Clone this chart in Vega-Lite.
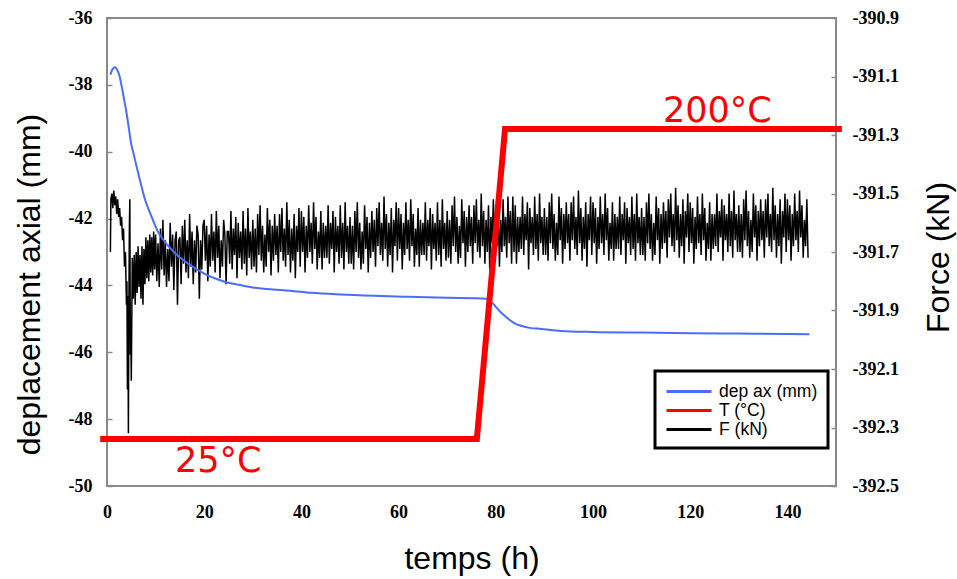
{
  "$schema": "https://vega.github.io/schema/vega-lite/v6.json",
  "autosize": "none",
  "width": 729,
  "height": 468,
  "padding": {"left": 107, "top": 18, "right": 121, "bottom": 93},
  "background": "white",
  "config": {
    "view": {"stroke": "#8a8a8a", "strokeWidth": 2},
    "axis": {
      "grid": false, "domain": false,
      "tickColor": "#8a8a8a", "tickWidth": 1.5,
      "labelExpr": "replace(datum.label, '\u2212', '-')",
      "labelFont": "Liberation Serif", "labelFontWeight": "bold", "labelFontSize": 18, "labelColor": "black",
      "titleFont": "Liberation Sans", "titleFontSize": 32, "titleFontWeight": "normal", "titleColor": "black"
    }
  },
  "datasets": {
    "force": [
      {"t":0.7,"F":-391.70},{"t":0.8,"F":-391.52},{"t":1.0,"F":-391.50},{"t":1.2,"F":-391.55},{"t":1.4,"F":-391.49},{"t":1.6,"F":-391.54},{"t":1.8,"F":-391.51},{"t":2.0,"F":-391.57},{"t":2.2,"F":-391.52},{"t":2.4,"F":-391.58},
      {"t":2.6,"F":-391.55},{"t":2.8,"F":-391.61},{"t":3.0,"F":-391.58},{"t":3.2,"F":-391.66},{"t":3.4,"F":-391.62},{"t":3.6,"F":-391.75},{"t":3.8,"F":-391.70},{"t":4.0,"F":-391.88},{"t":4.1,"F":-391.80},{"t":4.2,"F":-392.17},
      {"t":4.3,"F":-391.85},{"t":4.4,"F":-392.32},{"t":4.5,"F":-391.90},{"t":4.6,"F":-391.62},{"t":4.7,"F":-391.52},{"t":4.8,"F":-392.05},{"t":4.9,"F":-391.95},{"t":5.0,"F":-392.14},
      {"t":5.2,"F":-391.72},{"t":5.4,"F":-391.86},{"t":5.6,"F":-391.71},{"t":5.8,"F":-391.88},{"t":6.0,"F":-391.70},{"t":6.2,"F":-391.84},{"t":6.4,"F":-391.68},{"t":6.6,"F":-391.82},{"t":6.8,"F":-391.71},{"t":7.0,"F":-391.86},
      {"t":7.2,"F":-391.68},{"t":7.4,"F":-391.88},{"t":7.6,"F":-391.69},{"t":7.8,"F":-391.81},{"t":8.0,"F":-391.65},{"t":8.2,"F":-391.79},{"t":8.4,"F":-391.66},{"t":8.6,"F":-391.80},{"t":8.8,"F":-391.64},{"t":9.0,"F":-391.77},
      {"t":9.2,"F":-391.65},{"t":9.4,"F":-391.78},{"t":9.6,"F":-391.63},{"t":9.8,"F":-391.76},
      {"t":10.0,"F":-391.64},{"t":10.25,"F":-391.80},{"t":10.5,"F":-391.67},{"t":10.75,"F":-391.82},{"t":11.0,"F":-391.62},{"t":11.25,"F":-391.76},{"t":11.5,"F":-391.59},{"t":11.75,"F":-391.78},{"t":12.0,"F":-391.66},{"t":12.25,"F":-391.82},
      {"t":12.5,"F":-391.69},{"t":12.75,"F":-391.80},{"t":13.0,"F":-391.60},{"t":13.25,"F":-391.75},{"t":13.5,"F":-391.64},{"t":13.75,"F":-391.83},{"t":14.0,"F":-391.66},{"t":14.25,"F":-391.63},{"t":14.5,"F":-391.88},{"t":14.75,"F":-391.66},
      {"t":15.0,"F":-391.65},{"t":15.25,"F":-391.81},{"t":15.5,"F":-391.61},{"t":15.75,"F":-391.74},{"t":16.0,"F":-391.59},{"t":16.25,"F":-391.77},{"t":16.5,"F":-391.66},{"t":16.75,"F":-391.79},{"t":17.0,"F":-391.57},{"t":17.25,"F":-391.75},
      {"t":17.5,"F":-391.63},{"t":17.75,"F":-391.81},{"t":18.0,"F":-391.66},{"t":18.25,"F":-391.77},{"t":18.5,"F":-391.61},{"t":18.75,"F":-391.64},{"t":19.0,"F":-391.86},{"t":19.25,"F":-391.66},{"t":19.5,"F":-391.76},{"t":19.75,"F":-391.61},
      {"t":20.0,"F":-391.59},{"t":20.25,"F":-391.73},{"t":20.5,"F":-391.61},{"t":20.75,"F":-391.80},{"t":21.0,"F":-391.64},{"t":21.25,"F":-391.75},{"t":21.5,"F":-391.57},{"t":21.75,"F":-391.73},{"t":22.0,"F":-391.63},{"t":22.25,"F":-391.77},
      {"t":22.5,"F":-391.56},{"t":22.75,"F":-391.72},{"t":23.0,"F":-391.61},{"t":23.25,"F":-391.79},{"t":23.5,"F":-391.66},{"t":23.75,"F":-391.75},{"t":24.0,"F":-391.59},{"t":24.25,"F":-391.64},{"t":24.5,"F":-391.81},{"t":24.75,"F":-391.63},
      {"t":25.0,"F":-391.63},{"t":25.25,"F":-391.74},{"t":25.5,"F":-391.56},{"t":25.75,"F":-391.76},{"t":26.0,"F":-391.62},{"t":26.25,"F":-391.71},{"t":26.5,"F":-391.58},{"t":26.75,"F":-391.79},{"t":27.0,"F":-391.60},{"t":27.25,"F":-391.72},
      {"t":27.5,"F":-391.63},{"t":27.75,"F":-391.76},{"t":28.0,"F":-391.56},{"t":28.25,"F":-391.74},{"t":28.5,"F":-391.62},{"t":28.75,"F":-391.78},{"t":29.0,"F":-391.55},{"t":29.25,"F":-391.72},{"t":29.5,"F":-391.63},{"t":29.75,"F":-391.76},
      {"t":30.0,"F":-391.59},{"t":30.25,"F":-391.75},{"t":30.5,"F":-391.62},{"t":30.75,"F":-391.77},{"t":31.0,"F":-391.57},{"t":31.25,"F":-391.71},{"t":31.5,"F":-391.54},{"t":31.75,"F":-391.73},{"t":32.0,"F":-391.61},{"t":32.25,"F":-391.77},
      {"t":32.5,"F":-391.64},{"t":32.75,"F":-391.75},{"t":33.0,"F":-391.55},{"t":33.25,"F":-391.70},{"t":33.5,"F":-391.59},{"t":33.75,"F":-391.78},{"t":34.0,"F":-391.61},{"t":34.25,"F":-391.73},{"t":34.5,"F":-391.57},{"t":34.75,"F":-391.71},
      {"t":35.0,"F":-391.61},{"t":35.25,"F":-391.77},{"t":35.5,"F":-391.57},{"t":35.75,"F":-391.70},{"t":36.0,"F":-391.55},{"t":36.25,"F":-391.73},{"t":36.5,"F":-391.62},{"t":36.75,"F":-391.75},{"t":37.0,"F":-391.53},{"t":37.25,"F":-391.71},
      {"t":37.5,"F":-391.59},{"t":37.75,"F":-391.77},{"t":38.0,"F":-391.62},{"t":38.25,"F":-391.73},{"t":38.5,"F":-391.57},{"t":38.75,"F":-391.79},{"t":39.0,"F":-391.61},{"t":39.25,"F":-391.70},{"t":39.5,"F":-391.55},{"t":39.75,"F":-391.75},
      {"t":40.0,"F":-391.56},{"t":40.25,"F":-391.70},{"t":40.5,"F":-391.58},{"t":40.75,"F":-391.77},{"t":41.0,"F":-391.61},{"t":41.25,"F":-391.72},{"t":41.5,"F":-391.54},{"t":41.75,"F":-391.70},{"t":42.0,"F":-391.60},{"t":42.25,"F":-391.74},
      {"t":42.5,"F":-391.53},{"t":42.75,"F":-391.69},{"t":43.0,"F":-391.58},{"t":43.25,"F":-391.76},{"t":43.5,"F":-391.63},{"t":43.75,"F":-391.72},{"t":44.0,"F":-391.56},{"t":44.25,"F":-391.76},{"t":44.5,"F":-391.60},{"t":44.75,"F":-391.72},
      {"t":45.0,"F":-391.61},{"t":45.25,"F":-391.72},{"t":45.5,"F":-391.54},{"t":45.75,"F":-391.74},{"t":46.0,"F":-391.60},{"t":46.25,"F":-391.69},{"t":46.5,"F":-391.56},{"t":46.75,"F":-391.77},{"t":47.0,"F":-391.58},{"t":47.25,"F":-391.70},
      {"t":47.5,"F":-391.61},{"t":47.75,"F":-391.74},{"t":48.0,"F":-391.54},{"t":48.25,"F":-391.72},{"t":48.5,"F":-391.60},{"t":48.75,"F":-391.76},{"t":49.0,"F":-391.53},{"t":49.25,"F":-391.70},{"t":49.5,"F":-391.61},{"t":49.75,"F":-391.74},
      {"t":50.0,"F":-391.58},{"t":50.25,"F":-391.74},{"t":50.5,"F":-391.61},{"t":50.75,"F":-391.76},{"t":51.0,"F":-391.56},{"t":51.25,"F":-391.70},{"t":51.5,"F":-391.53},{"t":51.75,"F":-391.72},{"t":52.0,"F":-391.60},{"t":52.25,"F":-391.76},
      {"t":52.5,"F":-391.63},{"t":52.75,"F":-391.74},{"t":53.0,"F":-391.54},{"t":53.25,"F":-391.69},{"t":53.5,"F":-391.58},{"t":53.75,"F":-391.77},{"t":54.0,"F":-391.60},{"t":54.25,"F":-391.72},{"t":54.5,"F":-391.56},{"t":54.75,"F":-391.70},
      {"t":55.0,"F":-391.59},{"t":55.25,"F":-391.75},{"t":55.5,"F":-391.55},{"t":55.75,"F":-391.68},{"t":56.0,"F":-391.53},{"t":56.25,"F":-391.71},{"t":56.5,"F":-391.60},{"t":56.75,"F":-391.73},{"t":57.0,"F":-391.51},{"t":57.25,"F":-391.69},
      {"t":57.5,"F":-391.57},{"t":57.75,"F":-391.75},{"t":58.0,"F":-391.60},{"t":58.25,"F":-391.71},{"t":58.5,"F":-391.55},{"t":58.75,"F":-391.77},{"t":59.0,"F":-391.59},{"t":59.25,"F":-391.68},{"t":59.5,"F":-391.53},{"t":59.75,"F":-391.73},
      {"t":60.0,"F":-391.55},{"t":60.25,"F":-391.69},{"t":60.5,"F":-391.57},{"t":60.75,"F":-391.76},{"t":61.0,"F":-391.60},{"t":61.25,"F":-391.71},{"t":61.5,"F":-391.53},{"t":61.75,"F":-391.69},{"t":62.0,"F":-391.59},{"t":62.25,"F":-391.73},
      {"t":62.5,"F":-391.52},{"t":62.75,"F":-391.68},{"t":63.0,"F":-391.57},{"t":63.25,"F":-391.75},{"t":63.5,"F":-391.62},{"t":63.75,"F":-391.71},{"t":64.0,"F":-391.55},{"t":64.25,"F":-391.75},{"t":64.5,"F":-391.59},{"t":64.75,"F":-391.71},
      {"t":65.0,"F":-391.60},{"t":65.25,"F":-391.71},{"t":65.5,"F":-391.53},{"t":65.75,"F":-391.73},{"t":66.0,"F":-391.59},{"t":66.25,"F":-391.68},{"t":66.5,"F":-391.55},{"t":66.75,"F":-391.76},{"t":67.0,"F":-391.57},{"t":67.25,"F":-391.69},
      {"t":67.5,"F":-391.60},{"t":67.75,"F":-391.73},{"t":68.0,"F":-391.53},{"t":68.25,"F":-391.71},{"t":68.5,"F":-391.59},{"t":68.75,"F":-391.75},{"t":69.0,"F":-391.52},{"t":69.25,"F":-391.69},{"t":69.5,"F":-391.60},{"t":69.75,"F":-391.73},
      {"t":70.0,"F":-391.56},{"t":70.25,"F":-391.72},{"t":70.5,"F":-391.59},{"t":70.75,"F":-391.74},{"t":71.0,"F":-391.54},{"t":71.25,"F":-391.68},{"t":71.5,"F":-391.51},{"t":71.75,"F":-391.70},{"t":72.0,"F":-391.58},{"t":72.25,"F":-391.74},
      {"t":72.5,"F":-391.61},{"t":72.75,"F":-391.72},{"t":73.0,"F":-391.52},{"t":73.25,"F":-391.67},{"t":73.5,"F":-391.56},{"t":73.75,"F":-391.75},{"t":74.0,"F":-391.58},{"t":74.25,"F":-391.70},{"t":74.5,"F":-391.54},{"t":74.75,"F":-391.68},
      {"t":75.0,"F":-391.58},{"t":75.25,"F":-391.74},{"t":75.5,"F":-391.54},{"t":75.75,"F":-391.67},{"t":76.0,"F":-391.52},{"t":76.25,"F":-391.70},{"t":76.5,"F":-391.59},{"t":76.75,"F":-391.72},{"t":77.0,"F":-391.50},{"t":77.25,"F":-391.68},
      {"t":77.5,"F":-391.56},{"t":77.75,"F":-391.74},{"t":78.0,"F":-391.59},{"t":78.25,"F":-391.70},{"t":78.5,"F":-391.54},{"t":78.75,"F":-391.76},{"t":79.0,"F":-391.58},{"t":79.25,"F":-391.67},{"t":79.5,"F":-391.52},{"t":79.75,"F":-391.72},
      {"t":80.0,"F":-391.54},{"t":80.25,"F":-391.68},{"t":80.5,"F":-391.56},{"t":80.75,"F":-391.75},{"t":81.0,"F":-391.59},{"t":81.25,"F":-391.70},{"t":81.5,"F":-391.52},{"t":81.75,"F":-391.68},{"t":82.0,"F":-391.58},{"t":82.25,"F":-391.72},
      {"t":82.5,"F":-391.51},{"t":82.75,"F":-391.67},{"t":83.0,"F":-391.56},{"t":83.25,"F":-391.74},{"t":83.5,"F":-391.51},{"t":83.75,"F":-391.70},{"t":84.0,"F":-391.54},{"t":84.25,"F":-391.74},{"t":84.5,"F":-391.58},{"t":84.75,"F":-391.70},
      {"t":85.0,"F":-391.58},{"t":85.25,"F":-391.69},{"t":85.5,"F":-391.51},{"t":85.75,"F":-391.71},{"t":86.0,"F":-391.57},{"t":86.25,"F":-391.66},{"t":86.5,"F":-391.53},{"t":86.75,"F":-391.76},{"t":87.0,"F":-391.55},{"t":87.25,"F":-391.67},
      {"t":87.5,"F":-391.58},{"t":87.75,"F":-391.71},{"t":88.0,"F":-391.51},{"t":88.25,"F":-391.69},{"t":88.5,"F":-391.57},{"t":88.75,"F":-391.73},{"t":89.0,"F":-391.50},{"t":89.25,"F":-391.67},{"t":89.5,"F":-391.58},{"t":89.75,"F":-391.71},
      {"t":90.0,"F":-391.55},{"t":90.25,"F":-391.71},{"t":90.5,"F":-391.58},{"t":90.75,"F":-391.73},{"t":91.0,"F":-391.53},{"t":91.25,"F":-391.67},{"t":91.5,"F":-391.50},{"t":91.75,"F":-391.69},{"t":92.0,"F":-391.57},{"t":92.25,"F":-391.73},
      {"t":92.5,"F":-391.60},{"t":92.75,"F":-391.71},{"t":93.0,"F":-391.51},{"t":93.25,"F":-391.66},{"t":93.5,"F":-391.55},{"t":93.75,"F":-391.74},{"t":94.0,"F":-391.57},{"t":94.25,"F":-391.69},{"t":94.5,"F":-391.53},{"t":94.75,"F":-391.67},
      {"t":95.0,"F":-391.57},{"t":95.25,"F":-391.73},{"t":95.5,"F":-391.53},{"t":95.75,"F":-391.66},{"t":96.0,"F":-391.51},{"t":96.25,"F":-391.69},{"t":96.5,"F":-391.58},{"t":96.75,"F":-391.71},{"t":97.0,"F":-391.49},{"t":97.25,"F":-391.67},
      {"t":97.5,"F":-391.55},{"t":97.75,"F":-391.73},{"t":98.0,"F":-391.58},{"t":98.25,"F":-391.69},{"t":98.5,"F":-391.53},{"t":98.75,"F":-391.75},{"t":99.0,"F":-391.57},{"t":99.25,"F":-391.66},{"t":99.5,"F":-391.51},{"t":99.75,"F":-391.71},
      {"t":100.0,"F":-391.53},{"t":100.25,"F":-391.67},{"t":100.5,"F":-391.55},{"t":100.75,"F":-391.74},{"t":101.0,"F":-391.58},{"t":101.25,"F":-391.69},{"t":101.5,"F":-391.51},{"t":101.75,"F":-391.67},{"t":102.0,"F":-391.57},{"t":102.25,"F":-391.71},
      {"t":102.5,"F":-391.50},{"t":102.75,"F":-391.66},{"t":103.0,"F":-391.55},{"t":103.25,"F":-391.73},{"t":103.5,"F":-391.60},{"t":103.75,"F":-391.69},{"t":104.0,"F":-391.53},{"t":104.25,"F":-391.73},{"t":104.5,"F":-391.57},{"t":104.75,"F":-391.69},
      {"t":105.0,"F":-391.58},{"t":105.25,"F":-391.69},{"t":105.5,"F":-391.51},{"t":105.75,"F":-391.71},{"t":106.0,"F":-391.57},{"t":106.25,"F":-391.66},{"t":106.5,"F":-391.53},{"t":106.75,"F":-391.74},{"t":107.0,"F":-391.55},{"t":107.25,"F":-391.67},
      {"t":107.5,"F":-391.58},{"t":107.75,"F":-391.71},{"t":108.0,"F":-391.51},{"t":108.25,"F":-391.69},{"t":108.5,"F":-391.57},{"t":108.75,"F":-391.73},{"t":109.0,"F":-391.50},{"t":109.25,"F":-391.67},{"t":109.5,"F":-391.58},{"t":109.75,"F":-391.71},
      {"t":110.0,"F":-391.55},{"t":110.25,"F":-391.71},{"t":110.5,"F":-391.58},{"t":110.75,"F":-391.73},{"t":111.0,"F":-391.53},{"t":111.25,"F":-391.67},{"t":111.5,"F":-391.50},{"t":111.75,"F":-391.69},{"t":112.0,"F":-391.57},{"t":112.25,"F":-391.73},
      {"t":112.5,"F":-391.60},{"t":112.75,"F":-391.71},{"t":113.0,"F":-391.51},{"t":113.25,"F":-391.66},{"t":113.5,"F":-391.55},{"t":113.75,"F":-391.74},{"t":114.0,"F":-391.57},{"t":114.25,"F":-391.69},{"t":114.5,"F":-391.53},{"t":114.75,"F":-391.67},
      {"t":115.0,"F":-391.56},{"t":115.25,"F":-391.72},{"t":115.5,"F":-391.52},{"t":115.75,"F":-391.65},{"t":116.0,"F":-391.50},{"t":116.25,"F":-391.68},{"t":116.5,"F":-391.57},{"t":116.75,"F":-391.70},{"t":117.0,"F":-391.48},{"t":117.25,"F":-391.66},
      {"t":117.5,"F":-391.54},{"t":117.75,"F":-391.72},{"t":118.0,"F":-391.57},{"t":118.25,"F":-391.68},{"t":118.5,"F":-391.52},{"t":118.75,"F":-391.74},{"t":119.0,"F":-391.56},{"t":119.25,"F":-391.65},{"t":119.5,"F":-391.50},{"t":119.75,"F":-391.70},
      {"t":120.0,"F":-391.53},{"t":120.25,"F":-391.67},{"t":120.5,"F":-391.55},{"t":120.75,"F":-391.74},{"t":121.0,"F":-391.58},{"t":121.25,"F":-391.69},{"t":121.5,"F":-391.51},{"t":121.75,"F":-391.67},{"t":122.0,"F":-391.57},{"t":122.25,"F":-391.71},
      {"t":122.5,"F":-391.50},{"t":122.75,"F":-391.66},{"t":123.0,"F":-391.55},{"t":123.25,"F":-391.73},{"t":123.5,"F":-391.60},{"t":123.75,"F":-391.69},{"t":124.0,"F":-391.53},{"t":124.25,"F":-391.73},{"t":124.5,"F":-391.57},{"t":124.75,"F":-391.69},
      {"t":125.0,"F":-391.57},{"t":125.25,"F":-391.68},{"t":125.5,"F":-391.50},{"t":125.75,"F":-391.70},{"t":126.0,"F":-391.56},{"t":126.25,"F":-391.65},{"t":126.5,"F":-391.52},{"t":126.75,"F":-391.73},{"t":127.0,"F":-391.54},{"t":127.25,"F":-391.66},
      {"t":127.5,"F":-391.57},{"t":127.75,"F":-391.70},{"t":128.0,"F":-391.50},{"t":128.25,"F":-391.68},{"t":128.5,"F":-391.56},{"t":128.75,"F":-391.72},{"t":129.0,"F":-391.49},{"t":129.25,"F":-391.66},{"t":129.5,"F":-391.57},{"t":129.75,"F":-391.70},
      {"t":130.0,"F":-391.54},{"t":130.25,"F":-391.70},{"t":130.5,"F":-391.57},{"t":130.75,"F":-391.72},{"t":131.0,"F":-391.52},{"t":131.25,"F":-391.66},{"t":131.5,"F":-391.49},{"t":131.75,"F":-391.68},{"t":132.0,"F":-391.56},{"t":132.25,"F":-391.72},
      {"t":132.5,"F":-391.59},{"t":132.75,"F":-391.70},{"t":133.0,"F":-391.50},{"t":133.25,"F":-391.65},{"t":133.5,"F":-391.54},{"t":133.75,"F":-391.73},{"t":134.0,"F":-391.56},{"t":134.25,"F":-391.68},{"t":134.5,"F":-391.52},{"t":134.75,"F":-391.66},
      {"t":135.0,"F":-391.56},{"t":135.25,"F":-391.72},{"t":135.5,"F":-391.52},{"t":135.75,"F":-391.65},{"t":136.0,"F":-391.50},{"t":136.25,"F":-391.68},{"t":136.5,"F":-391.57},{"t":136.75,"F":-391.70},{"t":137.0,"F":-391.48},{"t":137.25,"F":-391.66},
      {"t":137.5,"F":-391.54},{"t":137.75,"F":-391.72},{"t":138.0,"F":-391.57},{"t":138.25,"F":-391.68},{"t":138.5,"F":-391.52},{"t":138.75,"F":-391.74},{"t":139.0,"F":-391.56},{"t":139.25,"F":-391.65},{"t":139.5,"F":-391.50},{"t":139.75,"F":-391.70},
      {"t":140.0,"F":-391.52},{"t":140.25,"F":-391.66},{"t":140.5,"F":-391.54},{"t":140.75,"F":-391.73},{"t":141.0,"F":-391.57},{"t":141.25,"F":-391.68},{"t":141.5,"F":-391.50},{"t":141.75,"F":-391.66},{"t":142.0,"F":-391.56},{"t":142.25,"F":-391.70},
      {"t":142.5,"F":-391.49},{"t":142.75,"F":-391.65},{"t":143.0,"F":-391.54},{"t":143.25,"F":-391.72},{"t":143.5,"F":-391.59},{"t":143.75,"F":-391.68},{"t":144.0,"F":-391.52},{"t":144.25,"F":-391.72}
    ],
    "dep": [
      {"t":0.7,"d":-37.70},{"t":1.0,"d":-37.57},{"t":1.6,"d":-37.47},{"t":2.2,"d":-37.58},{"t":2.6,"d":-37.75},{"t":3.0,"d":-38.03},{"t":3.5,"d":-38.42},{"t":4.0,"d":-38.82},{"t":4.5,"d":-39.30},{"t":5.0,"d":-39.78},
      {"t":5.5,"d":-40.08},{"t":6.1,"d":-40.45},{"t":7.0,"d":-40.98},{"t":7.8,"d":-41.42},{"t":9.0,"d":-41.88},{"t":10.3,"d":-42.34},{"t":11.5,"d":-42.62},{"t":12.8,"d":-42.85},{"t":14.4,"d":-43.09},{"t":16.5,"d":-43.33},
      {"t":18.5,"d":-43.52},{"t":20.6,"d":-43.69},{"t":23.0,"d":-43.83},{"t":25.0,"d":-43.92},{"t":27.4,"d":-43.99},{"t":30.0,"d":-44.06},{"t":33.0,"d":-44.11},{"t":37.7,"d":-44.16},{"t":42.0,"d":-44.22},{"t":48.0,"d":-44.27},
      {"t":55.0,"d":-44.31},{"t":62.0,"d":-44.34},{"t":70.0,"d":-44.37},{"t":76.0,"d":-44.38},{"t":78.0,"d":-44.40},{"t":79.0,"d":-44.48},{"t":80.0,"d":-44.64},{"t":81.0,"d":-44.80},{"t":82.0,"d":-44.93},{"t":83.0,"d":-45.05},
      {"t":84.0,"d":-45.14},{"t":85.0,"d":-45.20},{"t":87.0,"d":-45.27},{"t":89.3,"d":-45.30},{"t":93.4,"d":-45.36},{"t":100.0,"d":-45.39},{"t":110.0,"d":-45.41},{"t":120.0,"d":-45.43},{"t":130.0,"d":-45.44},{"t":140.0,"d":-45.45},
      {"t":144.5,"d":-45.46}
    ],
    "temp": [
      {"t":-1.4,"T":25},{"t":76.1,"T":25},{"t":81.9,"T":200},{"t":151.2,"T":200}
    ],
    "labels": [
      {"t":22.9,"T":6.4,"label":"25°C"},{"t":125.6,"T":204,"label":"200°C"}
    ]
  },
  "layer": [
    {
      "data": {"name": "force"},
      "mark": {"type": "line", "strokeWidth": 1.5},
      "encoding": {
        "x": {"field": "t", "type": "quantitative", "title": "temps (h)",
          "scale": {"domain": [0, 150], "nice": false, "zero": false},
          "axis": {"values": [0, 20, 40, 60, 80, 100, 120, 140], "ticks": false, "labelFlush": false, "labelPadding": 17, "titlePadding": 22}},
        "y": {"field": "F", "type": "quantitative", "title": "Force (kN)",
          "scale": {"domain": [-392.5, -390.9], "nice": false, "zero": false},
          "axis": {"orient": "right", "values": [-392.5, -392.3, -392.1, -391.9, -391.7, -391.5, -391.3, -391.1, -390.9], "format": ".1f",
            "tickSize": -5, "labelPadding": 21, "titleAngle": 270, "titleBaseline": "top", "titlePadding": 25, "titleY": 239}},
        "color": {"datum": "F (kN)", "type": "nominal",
          "scale": {"domain": ["dep ax (mm)", "T (°C)", "F (kN)"], "range": ["#4a6cff", "#ff0000", "#000000"]},
          "legend": {"orient": "none", "legendX": 548, "legendY": 353, "title": null,
            "symbolType": "M-1,0H4", "symbolSize": 324, "symbolStrokeWidth": 3,
            "labelFont": "Liberation Sans", "labelFontSize": 17.5, "labelColor": "black", "labelOffset": 33,
            "padding": 10, "rowPadding": 0, "strokeColor": "black", "fillColor": "white",
            "encode": {"legend": {"update": {"strokeWidth": {"value": 3}}}}}}
      }
    },
    {
      "data": {"name": "dep"},
      "mark": {"type": "line", "strokeWidth": 2, "interpolate": "monotone"},
      "encoding": {
        "x": {"field": "t", "type": "quantitative", "title": "temps (h)"},
        "y": {"field": "d", "type": "quantitative", "title": "deplacement axial (mm)",
          "scale": {"domain": [-50, -36], "nice": false, "zero": false},
          "axis": {"orient": "left", "values": [-50, -48, -46, -44, -42, -40, -38, -36],
            "tickSize": -5, "labelPadding": 20, "titlePadding": 22, "titleY": 266}},
        "color": {"datum": "dep ax (mm)", "type": "nominal"}
      }
    },
    {
      "layer": [
        {
          "data": {"name": "temp"},
          "mark": {"type": "line", "strokeWidth": 6, "strokeCap": "butt", "strokeJoin": "miter", "clip": false},
          "encoding": {
            "x": {"field": "t", "type": "quantitative", "title": "temps (h)"},
            "y": {"field": "T", "type": "quantitative", "scale": {"domain": [-1.5, 262.7], "nice": false, "zero": false}, "axis": null},
            "color": {"datum": "T (°C)", "type": "nominal"}
          }
        },
        {
          "data": {"name": "labels"},
          "mark": {"type": "text", "font": "DejaVu Sans", "fontSize": 35, "color": "#ff0000", "align": "center", "baseline": "alphabetic"},
          "encoding": {
            "x": {"field": "t", "type": "quantitative", "title": "temps (h)"},
            "y": {"field": "T", "type": "quantitative", "axis": null},
            "text": {"field": "label"}
          }
        }
      ]
    }
  ],
  "resolve": {"scale": {"y": "independent"}}
}
